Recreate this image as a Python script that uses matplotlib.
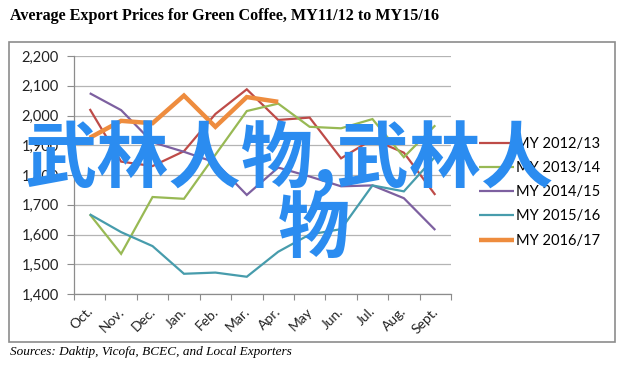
import matplotlib
matplotlib.use("Agg")
import matplotlib.pyplot as plt
import matplotlib.ticker as mticker
from matplotlib.patches import Rectangle
from matplotlib.transforms import ScaledTranslation

# Data (US$/ton)
months = ['Oct.', 'Nov.', 'Dec.', 'Jan.', 'Feb.', 'Mar.', 'Apr.', 'May', 'Jun.', 'Jul.', 'Aug.', 'Sept.']
my_2012_13 = [2022, 1845, 1830, 1880, 2005, 2088, 1985, 1993, 1856, 1920, 1875, 1733]
my_2013_14 = [1668, 1535, 1726, 1720, 1868, 2015, 2040, 1962, 1957, 1988, 1860, 1967]
my_2014_15 = [2075, 2018, 1910, 1878, 1842, 1733, 1825, 1795, 1762, 1765, 1722, 1615]
my_2015_16 = [1668, 1608, 1561, 1468, 1472, 1458, 1542, 1600, 1618, 1765, 1745, 1862]
my_2016_17 = [1925, 1982, 1974, 2067, 1962, 2062, 2046]

series = [
    ('MY 2012/13', my_2012_13, '#BE4B48', 1.6),
    ('MY 2013/14', my_2013_14, '#98B954', 1.6),
    ('MY 2014/15', my_2014_15, '#7D60A0', 1.6),
    ('MY 2015/16', my_2015_16, '#479CAC', 1.6),
    ('MY 2016/17', my_2016_17, '#EE8C3E', 3.2),
]

W, H = 628, 372
fig = plt.figure(figsize=(W / 100, H / 100), dpi=100)

# outer chart frame
fig.patches.append(Rectangle((9 / W, 1 - 342 / H), (615 - 9) / W, (342 - 42) / H,
                             transform=fig.transFigure, fill=False,
                             edgecolor='#8C8C8C', linewidth=1.2))

ax = fig.add_axes([74 / W, 1 - 294 / H, (451 - 74) / W, (294 - 56) / H])

x = list(range(len(months)))
for label, vals, color, lw in series:
    ax.plot(x[:len(vals)], vals, color=color, linewidth=lw, label=label,
            solid_joinstyle='miter', solid_capstyle='butt')

ax.set_xlim(-0.5, len(months) - 0.5)
ax.set_ylim(1400, 2200)
ax.yaxis.set_major_locator(mticker.MultipleLocator(100))
ax.yaxis.set_major_formatter(mticker.FuncFormatter(lambda v, _: f'{int(v):,}'))
ax.grid(axis='y', color='#B4B4B4', linewidth=0.9)
ax.set_axisbelow(True)

# ticks at category boundaries, labels at centers
ax.set_xticks([i - 0.5 for i in range(len(months) + 1)])
ax.set_xticklabels([])
ax.set_xticks(x, minor=True)
ax.set_xticklabels(months, minor=True, rotation=45, ha='right', va='top',
                   fontsize=10, family='Lato', color='#222222')
ax.tick_params(axis='x', which='major', length=4, color='#8C8C8C', direction='out')
ax.tick_params(axis='x', which='minor', length=0, pad=8)
shift = ScaledTranslation(5 / 100, 0, fig.dpi_scale_trans)
for t in ax.xaxis.get_minorticklabels():
    t.set_transform(t.get_transform() + shift)

ax.tick_params(axis='y', length=5, color='#8C8C8C', pad=6, labelsize=10.5,
               labelcolor='#222222')
for t in ax.get_yticklabels():
    t.set_family('Lato')

for s in ['top', 'right']:
    ax.spines[s].set_visible(False)
for s in ['left', 'bottom']:
    ax.spines[s].set_color('#8C8C8C')
    ax.spines[s].set_linewidth(0.9)

fig.legend(loc='upper left', bbox_to_anchor=(473 / W, 1 - 131 / H), frameon=False,
           prop={'family': 'Lato', 'size': 10.5}, handlelength=2.4,
           handletextpad=0.15, labelspacing=0.7, borderaxespad=0)

fig.text(10 / W, 1 - 16 / H, 'Average Export Prices for Green Coffee, MY11/12 to MY15/16',
         family='Liberation Serif', weight='bold', fontsize=11.6, va='center', ha='left')
fig.text(10 / W, 1 - 352 / H, 'Sources: Daktip, Vicofa, BCEC, and Local Exporters',
         family='Liberation Serif', style='italic', fontsize=9.5, va='center', ha='left')

# blue watermark text laid over the chart
wm = dict(family=['Noto Sans CJK SC', 'DejaVu Sans'], weight='bold', fontsize=52,
          color='#2B8CF0', va='center', ha='left', zorder=10)
fig.text(25 / W, 1 - 159 / H, '武林人物,武林人', **wm)
fig.text(278 / W, 1 - 231 / H, '物', **wm)

fig.savefig('out.png', dpi=100)
